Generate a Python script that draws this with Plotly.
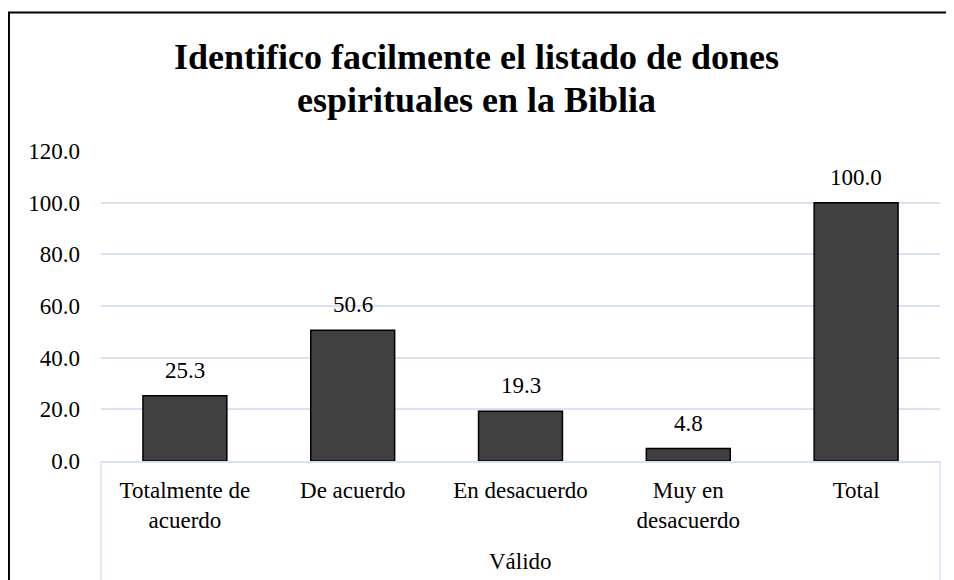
import plotly.graph_objects as go

categories = ["Totalmente de<br>acuerdo", "De acuerdo", "En desacuerdo", "Muy en<br>desacuerdo", "Total"]
values = [25.3, 50.6, 19.3, 4.8, 100.0]
group_label = "Válido"
title_lines = ["Identifico facilmente el listado de dones", "espirituales en la Biblia"]
y_ticks = [0, 20, 40, 60, 80, 100, 120]

FONT = "Liberation Serif"
GRID = "#d9e2f1"
FS = 23

fig = go.Figure()
fig.add_trace(go.Bar(
    x=categories, y=values,
    marker=dict(color="#404040", line=dict(color="#000000", width=1.5)),
    width=0.5,
    hoverinfo="skip",
))

for c, v in zip(categories, values):
    fig.add_annotation(x=c, y=v, text=f"{v:.1f}", showarrow=False,
                       xref="x", yref="y", yanchor="bottom", yshift=11,
                       font=dict(family=FONT, size=FS, color="#000000"))

fig.add_annotation(x=0.5, y=-0.325, xref="paper", yref="paper", text=group_label,
                   showarrow=False, yanchor="middle",
                   font=dict(family=FONT, size=FS, color="#000000"))

# title, two lines (tighter leading than plotly's default), centred on the chart
for txt, yp in zip(title_lines, [1.303, 1.166]):
    fig.add_annotation(x=0.447, y=yp, xref="paper", yref="paper", text=f"<b>{txt}</b>",
                       showarrow=False, xanchor="center", yanchor="middle",
                       font=dict(family=FONT, size=36, color="#000000"))

# chart border (left/top visible; rest cropped)
fig.add_shape(type="rect", xref="paper", yref="paper",
              x0=-0.1097, x1=1.2, y0=-0.6, y1=1.4468,
              line=dict(color="#000000", width=2), layer="above")
# multi-level axis side dividers
for xp in (0, 1):
    fig.add_shape(type="line", xref="paper", yref="paper",
                  x0=xp, x1=xp, y0=0, y1=-0.4,
                  line=dict(color=GRID, width=1.5))

fig.update_layout(
    width=954, height=580,
    margin=dict(l=93, r=22, t=143, b=127),
    paper_bgcolor="white", plot_bgcolor="white",
    showlegend=False,
    font=dict(family=FONT, size=FS, color="#000000"),
)
fig.update_xaxes(type="category", showline=True, linecolor=GRID, linewidth=1.5,
                 showgrid=False, ticks="", tickfont=dict(family=FONT, size=FS),
                 ticklabelstandoff=8)
fig.update_yaxes(range=[0, 120], tickvals=y_ticks, ticktext=[f"{t:.1f}" for t in y_ticks],
                 showgrid=True, gridcolor=GRID, gridwidth=1.5, zeroline=False,
                 showline=False, ticks="", ticklabelstandoff=20,
                 tickfont=dict(family=FONT, size=FS))

fig.write_html("out.html")
